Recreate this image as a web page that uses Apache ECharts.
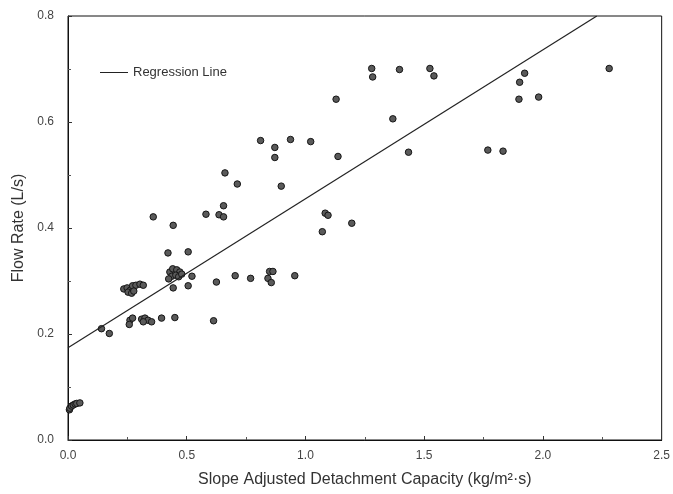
<!DOCTYPE html>
<html>
<head>
<meta charset="utf-8">
<script src="https://cdn.jsdelivr.net/npm/echarts@6/dist/echarts.min.js"></script>
<style>
  html, body { margin: 0; padding: 0; background: #fff; }
  #chart { width: 673px; height: 494px; }
</style>
</head>
<body>
<div id="chart"></div>
<script>
// values
const detachment = [
  0.006, 0.008, 0.015, 0.022, 0.030, 0.037, 0.050,
  0.141, 0.174,
  0.235, 0.249, 0.263, 0.272, 0.286, 0.303, 0.317, 0.253, 0.268, 0.277,
  0.261, 0.272, 0.258, 0.310, 0.324, 0.337, 0.352, 0.317, 0.394, 0.450, 0.613,
  0.429, 0.441, 0.458, 0.471, 0.437, 0.454, 0.466, 0.479, 0.424,
  0.443, 0.506, 0.522, 0.625, 0.704, 0.769,
  0.849, 0.863, 0.842, 0.856, 0.955,
  0.421, 0.506,
  0.359, 0.443, 0.581, 0.636, 0.655, 0.655,
  0.661, 0.713, 0.898,
  0.811, 0.871, 0.871, 0.937, 1.022, 1.137, 1.129,
  1.083, 1.095, 1.071, 1.195,
  1.279, 1.283, 1.396, 1.524, 1.541, 1.368, 1.434,
  1.768, 1.832, 1.923, 1.902, 1.899, 1.982, 2.279
];
const flowRate = [
  0.057, 0.060, 0.064, 0.066, 0.068, 0.069, 0.070,
  0.210, 0.201,
  0.285, 0.287, 0.283, 0.291, 0.292, 0.294, 0.292, 0.279, 0.277, 0.281,
  0.226, 0.230, 0.218, 0.228, 0.230, 0.226, 0.223, 0.223, 0.230, 0.231, 0.225,
  0.317, 0.323, 0.321, 0.317, 0.309, 0.311, 0.308, 0.313, 0.304,
  0.287, 0.291, 0.309, 0.298, 0.310, 0.305,
  0.318, 0.318, 0.305, 0.297, 0.310,
  0.353, 0.355,
  0.421, 0.405, 0.426, 0.425, 0.421, 0.442,
  0.504, 0.483, 0.479,
  0.565, 0.552, 0.533, 0.567, 0.563, 0.535, 0.643,
  0.428, 0.424, 0.393, 0.409,
  0.701, 0.685, 0.699, 0.701, 0.687, 0.606, 0.543,
  0.547, 0.545, 0.692, 0.675, 0.643, 0.647, 0.701
];
// regression line end points
const regressionX = [0, 2.227];
const regressionY = [0.174, 0.8];

const points = detachment.map((x, i) => [x, flowRate[i]]);
const regression = regressionX.map((x, i) => [x, regressionY[i]]);

const chart = echarts.init(document.getElementById('chart'));
const fontFamily = '"Liberation Sans", Arial, sans-serif';
const option = {
  backgroundColor: '#fff',
  animation: false,
  grid: {
    left: 68,
    right: 11,
    top: 16,
    bottom: 54,
    show: true,
    borderColor: '#111',
    borderWidth: 1
  },
  legend: {
    data: [{ name: 'Regression Line', icon: 'rect' }],
    left: 95,
    top: 61,
    itemWidth: 28,
    itemHeight: 1,
    itemGap: 10,
    textStyle: { fontFamily: fontFamily, fontSize: 13, color: '#333' }
  },
  xAxis: {
    type: 'value',
    min: 0,
    max: 2.5,
    interval: 0.5,
    name: 'Slope Adjusted Detachment Capacity (kg/m²·s)',
    nameLocation: 'middle',
    nameGap: 32,
    nameTextStyle: { fontFamily: fontFamily, fontSize: 16, color: '#333' },
    axisLine: { lineStyle: { color: '#111' } },
    axisTick: { inside: true, length: 4, lineStyle: { color: '#333' } },
    minorTick: { show: true, splitNumber: 2, length: 3, lineStyle: { color: '#555' } },
    splitLine: { show: false },
    axisLabel: {
      fontFamily: fontFamily, fontSize: 12, color: '#444', margin: 10,
      formatter: v => v.toFixed(1)
    }
  },
  yAxis: {
    type: 'value',
    min: 0,
    max: 0.8,
    interval: 0.2,
    name: 'Flow Rate (L/s)',
    nameLocation: 'middle',
    nameGap: 41,
    nameTextStyle: { fontFamily: fontFamily, fontSize: 16, color: '#333' },
    axisLine: { lineStyle: { color: '#111' } },
    axisTick: { inside: true, length: 4, lineStyle: { color: '#333' } },
    minorTick: { show: true, splitNumber: 2, length: 3, lineStyle: { color: '#555' } },
    splitLine: { show: false },
    axisLabel: {
      fontFamily: fontFamily, fontSize: 12, color: '#444', margin: 14,
      formatter: v => v.toFixed(1)
    }
  },
  series: [
    {
      name: 'Observed',
      type: 'scatter',
      data: points,
      symbol: 'circle',
      symbolSize: 6.5,
      itemStyle: { color: '#5a5a5a', borderColor: '#151515', borderWidth: 1, opacity: 1 }
    },
    {
      name: 'Regression Line',
      type: 'line',
      data: regression,
      showSymbol: false,
      lineStyle: { color: '#222', width: 1.2 },
      itemStyle: { color: '#222' }
    }
  ]
};
chart.setOption(option);
</script>
</body>
</html>
